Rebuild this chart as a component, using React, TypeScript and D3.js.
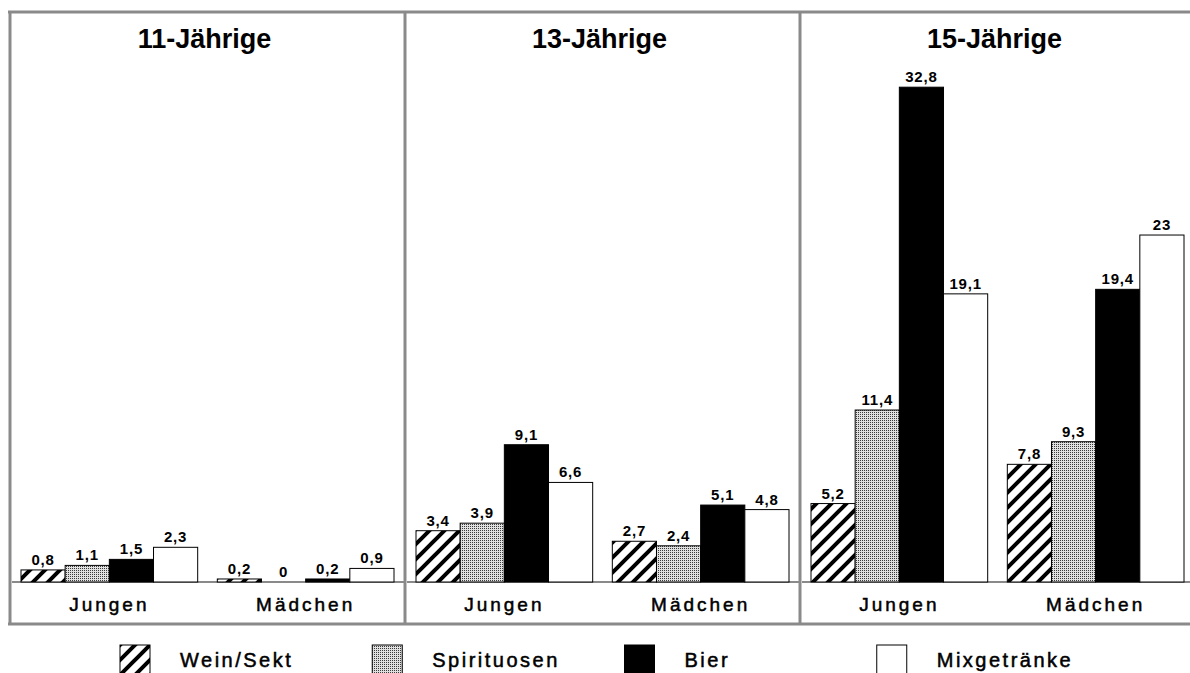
import React from "react";
import * as d3 from "d3";

const ages = ["11-Jährige", "13-Jährige", "15-Jährige"];
const genders = ["Jungen", "Mädchen"];
const drinks = ["Wein/Sekt", "Spirituosen", "Bier", "Mixgetränke"];

// values per drink, ordered: 11 J, 11 M, 13 J, 13 M, 15 J, 15 M
const weinSekt = [0.8, 0.2, 3.4, 2.7, 5.2, 7.8];
const spirituosen = [1.1, 0, 3.9, 2.4, 11.4, 9.3];
const bier = [1.5, 0.2, 9.1, 5.1, 32.8, 19.4];
const mixgetraenke = [2.3, 0.9, 6.6, 4.8, 19.1, 23];

const series = [weinSekt, spirituosen, bier, mixgetraenke];
const fills = ["url(#hatch)", "url(#dots)", "#000", "#fff"];

const width = 1190;
const height = 673;
const baseY = 582;
const frameTop = 12;
const frameBottom = 624;
const frameColor = "#8a8a8a";
const font = "Arial, 'Liberation Sans', sans-serif";

const fmt = (v: number) => String(v).replace(".", ",");

const App: React.FC = () => {
  const panelX = d3.scaleBand<string>().domain(ages).range([10, 1195]);
  const groupX = d3
    .scaleBand<string>()
    .domain(genders)
    .range([11, 384])
    .paddingInner(0.1);
  const barX = d3
    .scaleBand<string>()
    .domain(drinks)
    .range([0, groupX.bandwidth()]);
  const y = d3.scaleLinear().domain([0, 35]).range([baseY, 54]);
  const legendX = d3.scaleBand<string>().domain(drinks).range([120, 1129]);

  return (
    <svg
      width={width}
      height={height}
      style={{ position: "absolute", left: 0, top: 0, background: "#fff" }}
      fontFamily={font}
    >
      <defs>
        <pattern id="hatch" patternUnits="userSpaceOnUse" width={15} height={15}>
          <rect width={15} height={15} fill="#fff" />
          <path
            d="M0,15 L15,0 M-4,4 L4,-4 M11,19 L19,11"
            stroke="#000"
            strokeWidth={4}
          />
        </pattern>
        <pattern id="dots" patternUnits="userSpaceOnUse" width={2} height={2}>
          <rect width={2} height={2} fill="#e0e0e0" />
          <rect width={1} height={1} fill="#3a3a3a" />
        </pattern>
      </defs>

      {ages.map((age, ai) => {
        const px = panelX(age)!;
        return (
          <g key={age}>
            <text
              x={px + panelX.bandwidth() / 2 - 3}
              y={48}
              textAnchor="middle"
              fontSize={27}
              fontWeight="bold"
            >
              {age}
            </text>
            <line
              x1={px + 2}
              x2={px + panelX.bandwidth()}
              y1={baseY}
              y2={baseY}
              stroke={frameColor}
              strokeWidth={2}
            />
            {genders.map((g, gi) => {
              const gx = px + groupX(g)!;
              const idx = ai * 2 + gi;
              return (
                <g key={g}>
                  {drinks.map((d, di) => {
                    const v = series[di][idx];
                    const bx = gx + barX(d)!;
                    return (
                      <g key={d}>
                        {v > 0 && (
                          <rect
                            x={bx}
                            y={y(v)}
                            width={barX.bandwidth()}
                            height={baseY - y(v)}
                            fill={fills[di]}
                            stroke="#000"
                            strokeWidth={1}
                          />
                        )}
                        <text
                          x={bx + barX.bandwidth() / 2}
                          y={y(v) - 5}
                          textAnchor="middle"
                          fontSize={15}
                          fontWeight="bold"
                          letterSpacing={0.8}
                        >
                          {fmt(v)}
                        </text>
                      </g>
                    );
                  })}
                  <text
                    x={gx + groupX.bandwidth() / 2}
                    y={611}
                    textAnchor="middle"
                    fontSize={19}
                    letterSpacing={3}
                    stroke="#000"
                    strokeWidth={0.5}
                  >
                    {g}
                  </text>
                </g>
              );
            })}
          </g>
        );
      })}

      {/* frame */}
      <line x1={8} x2={width} y1={frameTop} y2={frameTop} stroke={frameColor} strokeWidth={3} />
      <line x1={8} x2={width} y1={frameBottom} y2={frameBottom} stroke={frameColor} strokeWidth={3} />
      {ages.map((age) => (
        <line
          key={age}
          x1={panelX(age)!}
          x2={panelX(age)!}
          y1={frameTop}
          y2={frameBottom}
          stroke={frameColor}
          strokeWidth={3}
        />
      ))}

      {/* legend */}
      {drinks.map((d, di) => {
        const lx = legendX(d)!;
        return (
          <g key={d}>
            <rect
              x={lx}
              y={645}
              width={30}
              height={30}
              fill={fills[di]}
              stroke="#000"
              strokeWidth={1}
            />
            <text
              x={lx + 60}
              y={667}
              fontSize={20}
              letterSpacing={2.5}
              stroke="#000"
              strokeWidth={0.5}
            >
              {d}
            </text>
          </g>
        );
      })}
    </svg>
  );
};

export default App;
